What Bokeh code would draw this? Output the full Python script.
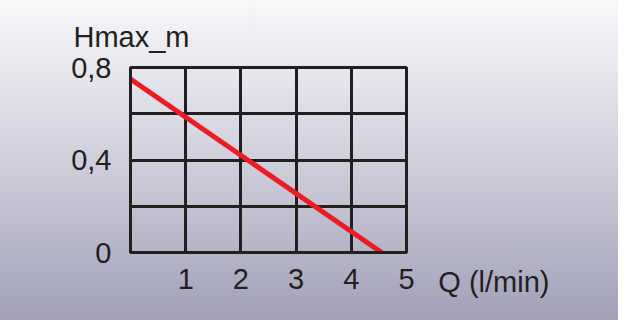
from bokeh.plotting import figure
from bokeh.models import FixedTicker, Range1d, Title
from bokeh.embed import file_html
from bokeh.resources import INLINE

# data
q_values = [0.0, 4.55]          # flow Q (l/min)
h_values = [0.75, 0.0]          # Hmax (m)
x_ticks = [1, 2, 3, 4, 5]
x_grid = [1, 2, 3, 4]
y_ticks = [0, 0.4, 0.8]
y_grid = [0.2, 0.4, 0.6]
y_tick_labels = {0: "0", 0.4: "0,4", 0.8: "0,8"}
x_title = "Q (l/min)"
y_title = "Hmax_m"

FONT = "Liberation Sans"
INK = "#231f20"
FS = "29px"

p = figure(width=618, height=320, x_range=Range1d(0, 5), y_range=Range1d(0, 0.8),
           output_backend="svg", toolbar_location=None,
           min_border_left=130, min_border_right=212, min_border_top=67, min_border_bottom=68)

p.styles = {"background-image": "linear-gradient(to bottom, #f8f8fa 0%, #d4d4e0 45%, #a1a0b7 100%)"}
p.border_fill_alpha = 0
p.background_fill_alpha = 0
p.outline_line_color = INK
p.outline_line_width = 3
p.outline_line_alpha = 1

p.title.text = y_title
p.title.align = "left"
p.title.offset = -57
p.title.standoff = 30
p.title.text_font = FONT
p.title.text_font_size = FS
p.title.text_font_style = "normal"
p.title.text_color = INK

p.xaxis.ticker = FixedTicker(ticks=x_ticks)
p.yaxis.ticker = FixedTicker(ticks=y_ticks)
p.yaxis.major_label_overrides = y_tick_labels
for ax in (p.xaxis, p.yaxis):
    ax.axis_line_color = INK
    ax.axis_line_width = 3
    ax.major_tick_line_color = None
    ax.minor_tick_line_color = None
    ax.major_label_text_font = FONT
    ax.major_label_text_font_size = FS
    ax.major_label_text_color = INK
p.xaxis.major_label_standoff = 10
p.yaxis.major_label_standoff = 13

p.xgrid.ticker = FixedTicker(ticks=x_grid)
p.ygrid.ticker = FixedTicker(ticks=y_grid)
for g in (p.xgrid, p.ygrid):
    g.grid_line_color = INK
    g.grid_line_width = 3
    g.grid_line_alpha = 1

p.line(q_values, h_values, line_color="#ec1c24", line_width=5)

q_title = Title(text=x_title, align="right", offset=-143, standoff=-52,
                vertical_align="top",
                text_font=FONT, text_font_size=FS, text_font_style="normal",
                text_color=INK)
p.add_layout(q_title, "below")

open("out.html", "w").write(file_html(p, INLINE))
